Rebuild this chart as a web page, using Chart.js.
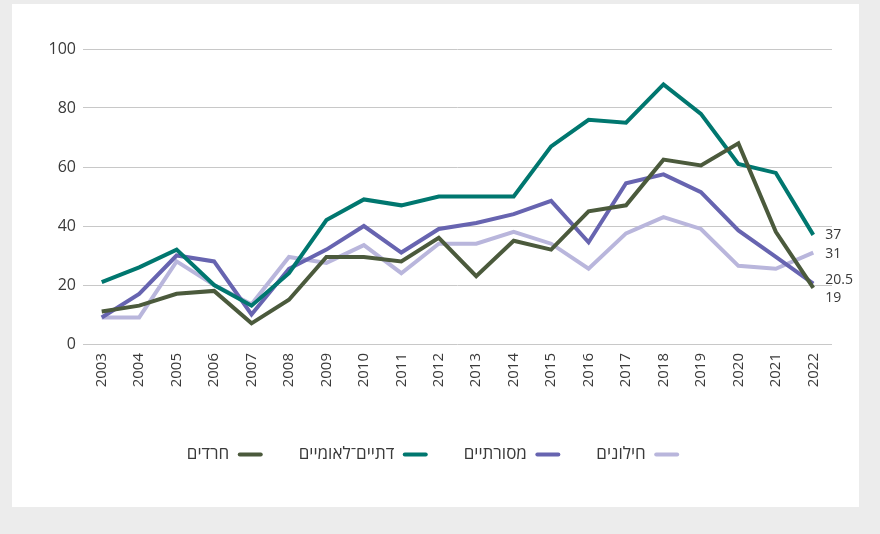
<!DOCTYPE html>
<html lang="he">
<head>
<meta charset="utf-8">
<script src="https://cdn.jsdelivr.net/npm/chart.js@4.4.1/dist/chart.umd.min.js"></script>
<style>
  html, body { margin: 0; padding: 0; background: #ececec; }
  body { width: 880px; height: 534px; position: relative; overflow: hidden; }
  .card { position: absolute; left: 12px; top: 4px; width: 847px; height: 503px; background: #fff; }
</style>
</head>
<body>
<div class="card"><canvas id="chart"></canvas></div>
<script>
// DATI
const years = ['2003','2004','2005','2006','2007','2008','2009','2010','2011','2012','2013','2014','2015','2016','2017','2018','2019','2020','2021','2022'];
const haredim = [11, 13, 17, 18, 7, 15, 29.5, 29.5, 28, 36, 23, 35, 32, 45, 47, 62.5, 60.5, 68, 38, 19];
const datiLeumi = [21, 26, 32, 20, 13, 24, 42, 49, 47, 50, 50, 50, 67, 76, 75, 88, 78, 61, 58, 37];
const masorti = [9, 17, 30, 28, 10, 25.5, 32, 40, 31, 39, 41, 44, 48.5, 34.5, 54.5, 57.5, 51.5, 38.5, 29.5, 20.5];
const hiloni = [9, 9, 28, 20, 13.5, 29.5, 27.5, 33.5, 24, 34, 34, 38, 34, 25.5, 37.5, 43, 39, 26.5, 25.5, 31];
const yTicks = [0, 20, 40, 60, 80, 100];

const seriesNames = ['חרדים', 'דתיים־לאומיים', 'מסורתיים', 'חילונים'];
const seriesColors = ['#4b5a3c', '#00776f', '#6764b0', '#b9b6dc'];
const seriesData = [haredim, datiLeumi, masorti, hiloni];

// spostamento verticale delle etichette finali (px)
const endLabelNudge = [10, 0, -4, 1];

Chart.defaults.font.family = "'Open Sans', sans-serif";
Chart.defaults.color = '#3a3a3a';

// etichette con il valore finale a destra di ogni linea
const endLabels = {
  id: 'endLabels',
  afterDatasetsDraw(chart) {
    const { ctx, scales: { x, y } } = chart;
    ctx.save();
    ctx.font = "14px 'Open Sans', sans-serif";
    ctx.fillStyle = '#3a3a3a';
    ctx.textAlign = 'left';
    ctx.textBaseline = 'middle';
    chart.data.datasets.forEach((ds, i) => {
      const last = ds.data.length - 1;
      const v = ds.data[last];
      ctx.fillText(String(v), x.getPixelForValue(last) + 12, y.getPixelForValue(v) + endLabelNudge[i]);
    });
    ctx.restore();
  }
};

new Chart(document.getElementById('chart'), {
  type: 'line',
  data: {
    labels: years,
    datasets: seriesData.map((d, i) => ({
      label: seriesNames[i],
      data: d,
      borderColor: seriesColors[i],
      backgroundColor: seriesColors[i],
      borderWidth: 4,
      pointRadius: 0,
      tension: 0
    }))
  },
  options: {
    responsive: true,
    maintainAspectRatio: false,
    animation: false,
    layout: { padding: { top: 45, right: 27, bottom: 34, left: 22 } },
    plugins: {
      tooltip: { enabled: false },
      legend: {
        position: 'bottom',
        rtl: true,
        reverse: true,
        textDirection: 'rtl',
        labels: {
          boxWidth: 25,
          boxHeight: 4,
          useBorderRadius: true,
          borderRadius: 2,
          padding: 36,
          color: '#3a3a3a',
          font: { size: 17 },
          generateLabels(chart) {
            return Chart.defaults.plugins.legend.labels.generateLabels(chart).map(l => ({ ...l, lineWidth: 0 }));
          }
        }
      }
    },
    scales: {
      x: {
        offset: true,
        grid: { display: false, drawTicks: false },
        border: { display: false },
        ticks: { minRotation: 90, maxRotation: 90, padding: 9, color: '#3a3a3a', font: { size: 15 } },
        afterFit(scale) { scale.height = 66; }
      },
      y: {
        min: 0,
        max: 100,
        afterBuildTicks(scale) { scale.ticks = yTicks.map(v => ({ value: v })); },
        grid: { color: '#c8c8c8', lineWidth: 1, drawTicks: false },
        border: { display: false },
        ticks: { padding: 7, color: '#3a3a3a', font: { size: 16 } },
        afterFit(scale) { scale.width = 49; }
      }
    }
  },
  plugins: [endLabels]
});
</script>
</body>
</html>
